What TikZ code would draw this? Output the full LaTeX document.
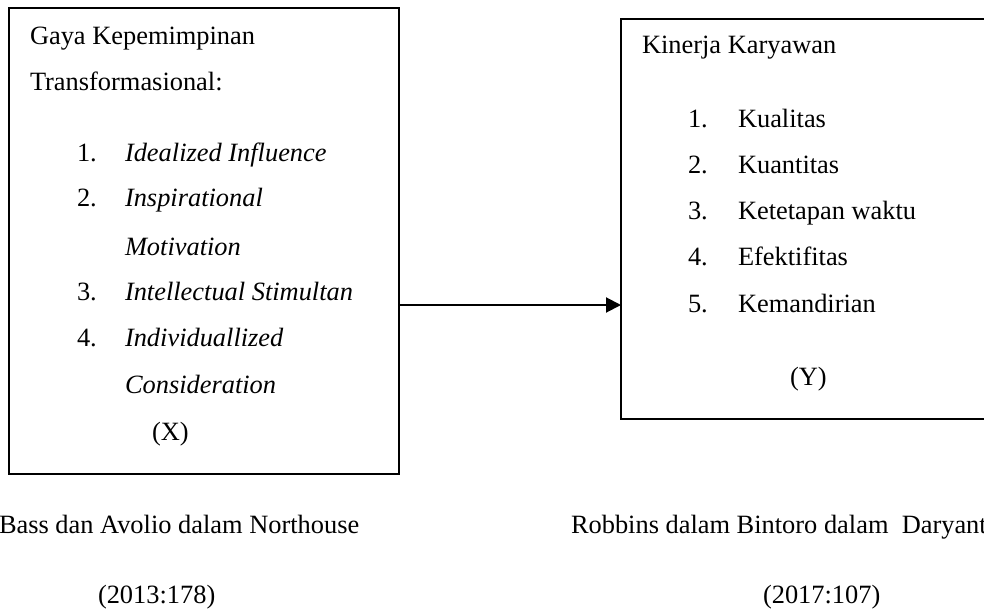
\documentclass[tikz,border=0pt]{standalone}
\usepackage{fontspec}
\setmainfont{Liberation Serif}
\usetikzlibrary{arrows.meta}
\begin{document}
\begin{tikzpicture}[x=1pt,y=-1pt,
  boxnode/.style={draw=black,line width=2pt,rectangle,inner sep=0pt,outer sep=0pt},
  txt/.style={anchor=base west,inner sep=0pt,outer sep=0pt,font=\fontsize{26.4}{30}\selectfont},
  itx/.style={txt,font=\fontsize{26.4}{30}\selectfont\itshape},
  link/.style={line width=2pt,-{Triangle[length=15pt,width=15pt]}}]
\useasboundingbox (0,0) rectangle (984,612);
\clip (0,0) rectangle (984,612);
% boxes
\node[boxnode,minimum width=390pt,minimum height=466pt] (X) at (204,241) {};
\node[boxnode,minimum width=400pt,minimum height=400pt] (Y) at (821,219) {};
% left box text
\node[txt] (l1) at (30,45) {Gaya Kepemimpinan};
\node[txt] (l2) at (30,91) {Transformasional:};
\node[txt] (n1) at (77,162) {1.};
\node[itx] (i1) at (125,162) {Idealized Influence};
\node[txt] (n2) at (77,207) {2.};
\node[itx] (i2) at (125,207) {Inspirational};
\node[itx] (i2b) at (125,255) {Motivation};
\node[txt] (n3) at (77,300) {3.};
\node[itx] (i3) at (125,300) {Intellectual Stimultan};
\node[txt] (n4) at (77,346) {4.};
\node[itx] (i4) at (125,346) {Individuallized};
\node[itx] (i4b) at (125,393) {Consideration};
\node[txt] (xl) at (152,440) {(X)};
% right box text
\node[txt] (r0) at (642,54) {Kinerja Karyawan};
\node[txt] (m1) at (688,128) {1.};
\node[txt] (k1) at (738,128) {Kualitas};
\node[txt] (m2) at (688,174) {2.};
\node[txt] (k2) at (738,174) {Kuantitas};
\node[txt] (m3) at (688,220) {3.};
\node[txt] (k3) at (738,220) {Ketetapan waktu};
\node[txt] (m4) at (688,265) {4.};
\node[txt] (k4) at (738,265) {Efektifitas};
\node[txt] (m5) at (688,312) {5.};
\node[txt] (k5) at (738,312) {Kemandirian};
\node[txt] (yl) at (790,385) {(Y)};
% captions
\node[txt] (c1) at (-1,533) {Bass dan Avolio dalam Northouse};
\node[txt] (c1b) at (98,603) {(2013:178)};
\node[txt] (c2) at (571,533) {Robbins dalam Bintoro dalam\ \ Daryanto};
\node[txt] (c2b) at (763,603) {(2017:107)};
% connector
\coordinate (ay) at (0,305);
\draw[link] (X.east |- ay) -- (Y.west |- ay);
\end{tikzpicture}
\end{document}
